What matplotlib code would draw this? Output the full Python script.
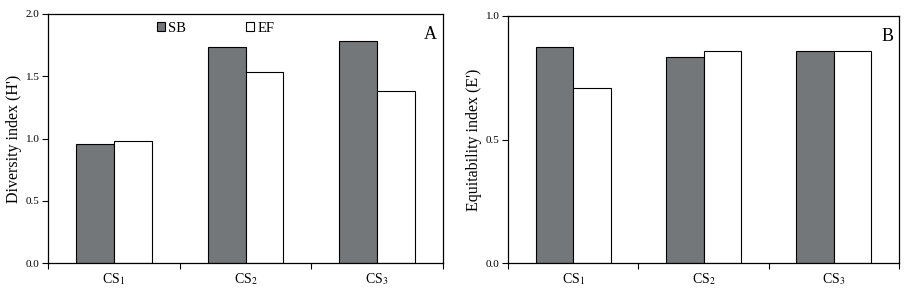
import matplotlib
matplotlib.use("Agg")
import matplotlib.pyplot as plt
import numpy as np
from matplotlib.ticker import FixedLocator, NullFormatter

plt.rcParams['font.family'] = ['Liberation Serif', 'DejaVu Serif']
plt.rcParams['mathtext.fontset'] = 'stix'

categories = ["CS$_1$", "CS$_2$", "CS$_3$"]
series_names = ["SB", "EF"]
diversity_sb = [0.956, 1.735, 1.783]
diversity_ef = [0.980, 1.534, 1.381]
equit_sb = [0.873, 0.833, 0.857]
equit_ef = [0.708, 0.857, 0.857]

gray = "#747779"
fig = plt.figure(figsize=(9.18, 2.94), dpi=100)
axA = fig.add_axes([0.0523, 0.1054, 0.4303, 0.8470])
axB = fig.add_axes([0.5534, 0.1054, 0.4259, 0.8402])

x = np.arange(len(categories))
w = 0.287

def style(ax, ymax, yticks, ylabel, letter):
    ax.set_xlim(-0.5, len(categories) - 0.5)
    ax.set_ylim(0, ymax)
    ax.set_yticks(yticks)
    ax.set_yticklabels([f"{v:.1f}" for v in yticks], fontsize=8)
    ax.set_xticks(x)
    ax.set_xticklabels(categories, fontsize=10)
    ax.tick_params(axis='x', which='major', length=0, pad=6)
    ax.xaxis.set_minor_locator(FixedLocator(np.arange(-0.5, len(categories), 1.0)))
    ax.xaxis.set_minor_formatter(NullFormatter())
    ax.tick_params(axis='x', which='minor', length=4, direction='out', width=0.8)
    ax.tick_params(axis='y', length=4, direction='out', width=0.8, pad=2)
    for s in ax.spines.values():
        s.set_linewidth(0.9)
    ax.set_ylabel(ylabel, fontsize=11.5, labelpad=3)
    ax.text(0.985, 0.95, letter, transform=ax.transAxes, ha='right', va='top', fontsize=13)

bA1 = axA.bar(x - w/2, diversity_sb, w, color=gray, edgecolor='black', linewidth=0.8, label=series_names[0])
bA2 = axA.bar(x + w/2, diversity_ef, w, color='white', edgecolor='black', linewidth=0.8, label=series_names[1])
style(axA, 2.0, [0.0, 0.5, 1.0, 1.5, 2.0], "Diversity index (H')", "A")
axA.legend(handles=[bA1, bA2], ncol=2, frameon=False, loc='upper center',
           bbox_to_anchor=(0.425, 1.0), fontsize=10.5, handlelength=0.55, handleheight=0.55,
           handletextpad=0.25, columnspacing=4.1, borderaxespad=0.15)

axB.bar(x - w/2, equit_sb, w, color=gray, edgecolor='black', linewidth=0.8)
axB.bar(x + w/2, equit_ef, w, color='white', edgecolor='black', linewidth=0.8)
style(axB, 1.0, [0.0, 0.5, 1.0], "Equitability index (E')", "B")

fig.savefig("out.png", dpi=100)
